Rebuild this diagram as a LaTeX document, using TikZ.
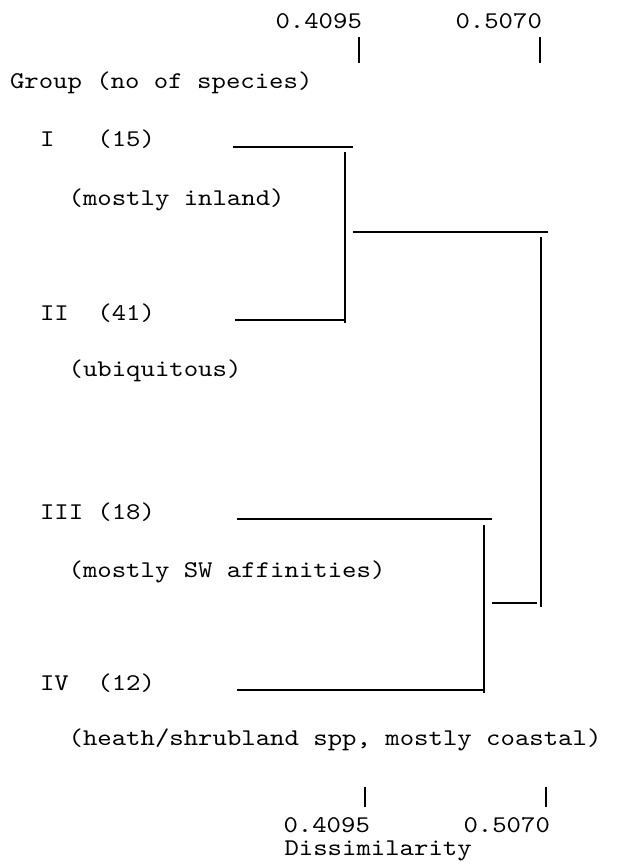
\documentclass[tikz,border=0pt]{standalone}
\usepackage{fontspec}
\setmainfont{lmmono10-regular.otf}[FakeStretch=1.143]
\begin{document}
\begin{tikzpicture}[x=1pt,y=-1pt,
  lbl/.style={anchor=base west, inner sep=0pt, outer sep=0pt, font=\fontsize{24}{28}\selectfont},
  hbar/.style={line width=1.6pt},
  vbar/.style={line width=1.3pt}]
\useasboundingbox (0,0) rectangle (630,865);
% top scale
\node[lbl] (top1) at (275.5,28) {0.4095};
\node[lbl] (top2) at (455.5,28) {0.5070};
\coordinate (tk1a) at (359,37); \coordinate (tk1b) at (359,63);
\coordinate (tk2a) at (540,37); \coordinate (tk2b) at (540,63);
\draw[vbar] (tk1a) -- (tk1b);
\draw[vbar] (tk2a) -- (tk2b);
% header
\node[lbl] (head) at (10,88) {Group (no of species)};
% groups
\node[lbl] (g1) at (40,146) {I};
\node[lbl] (n1) at (97.4,146) {(15)};
\node[lbl] (d1) at (68.6,205) {(mostly inland)};
\node[lbl] (g2) at (40,320) {II};
\node[lbl] (n2) at (97.4,320) {(41)};
\node[lbl] (d2) at (68.6,376) {(ubiquitous)};
\node[lbl] (g3) at (40,519) {III};
\node[lbl] (n3) at (97.4,519) {(18)};
\node[lbl] (d3) at (68.6,577) {(mostly SW affinities)};
\node[lbl] (g4) at (40,690) {IV};
\node[lbl] (n4) at (97.4,690) {(12)};
\node[lbl] (d4) at (68.6,745) {(heath/shrubland spp, mostly coastal)};
% dendrogram coordinates
\coordinate (aI) at (233,147);  \coordinate (bI) at (353,147);
\coordinate (aII) at (235,320); \coordinate (bII) at (345,320);
\coordinate (v1a) at (345,152); \coordinate (v1b) at (345,323);
\coordinate (m1a) at (353,232); \coordinate (m1b) at (548,232);
\coordinate (v2a) at (541,237); \coordinate (v2b) at (541,607);
\coordinate (aIII) at (237,519); \coordinate (bIII) at (492,519);
\coordinate (aIV) at (237,690); \coordinate (bIV) at (484,690);
\coordinate (v3a) at (484,525); \coordinate (v3b) at (484,693);
\coordinate (s1a) at (492,603); \coordinate (s1b) at (537,603);
\draw[hbar] (aI) -- (bI);
\draw[hbar] (aII) -- (bII);
\draw[vbar] (v1a) -- (v1b);
\draw[hbar] (m1a) -- (m1b);
\draw[vbar] (v2a) -- (v2b);
\draw[hbar] (aIII) -- (bIII);
\draw[hbar] (aIV) -- (bIV);
\draw[vbar] (v3a) -- (v3b);
\draw[hbar] (s1a) -- (s1b);
% bottom scale
\coordinate (bt1a) at (365,787); \coordinate (bt1b) at (365,807);
\coordinate (bt2a) at (546,787); \coordinate (bt2b) at (546,807);
\draw[vbar] (bt1a) -- (bt1b);
\draw[vbar] (bt2a) -- (bt2b);
\node[lbl] (bot1) at (283.5,832) {0.4095};
\node[lbl] (bot2) at (463.5,832) {0.5070};
\node[lbl] (axis) at (284.5,855) {Dissimilarity};
\end{tikzpicture}
\end{document}
